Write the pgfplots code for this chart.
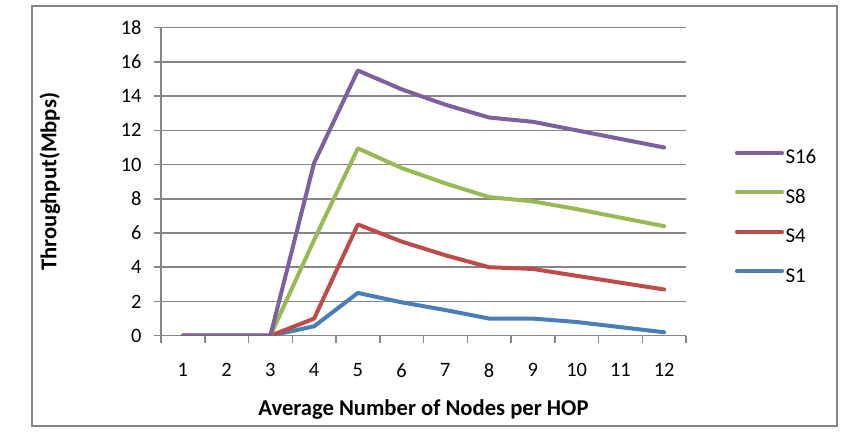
\documentclass[border=0pt]{standalone}
\usepackage{pgfplots}
\pgfplotsset{compat=1.18}
\usepackage{fontspec}
\setmainfont{Carlito}
\definecolor{cS1}{HTML}{4A7EBB}
\definecolor{cS4}{HTML}{BE4B48}
\definecolor{cS8}{HTML}{98B954}
\definecolor{cS16}{HTML}{7D60A0}
\definecolor{gridc}{HTML}{868686}
\begin{document}
\begin{tikzpicture}[x=1bp,y=1bp]
\useasboundingbox (0,0) rectangle (860,438);
\draw[gridc, line width=2bp] (32,12) rectangle (837,431.5);
\begin{axis}[
 at={(161bp,102.3bp)}, anchor=south west,
 scale only axis, width=525bp, height=308bp,
 xmin=0.5, xmax=12.5, ymin=0, ymax=18,
 xtick={0.5,1.5,...,12.5}, xticklabels={1,2,3,4,5,6,7,8,9,10,11,12,{}},
 ytick={0,2,...,18},
 tick align=outside, major tick length=7bp,
 axis lines*=left,
 axis line style={gridc, line width=1.5bp},
 tick style={gridc, line width=1.5bp},
 ymajorgrids, major grid style={gridc, line width=1.5bp},
 /pgf/number format/assume math mode=true,
 tick label style={font=\fontsize{20.5}{24}\selectfont, text=black},
 xticklabel style={xshift=21.875bp, yshift=-17bp},
 yticklabel style={xshift=-9bp},
 xlabel={\textbf{Average Number of Nodes per HOP}},
 ylabel={\textbf{Throughput(Mbps)}},
 label style={font=\fontsize{22.7}{26}\selectfont},
 xlabel style={at={(axis description cs:0.5,-0.2607)}, anchor=base},
 ylabel style={at={(axis description cs:-0.2114,0.5)}, anchor=center},
 legend style={at={(axis description cs:1.0933,0.387)}, anchor=west, draw=none, fill=none,
   inner sep=0pt, outer sep=0pt, row sep=26.5bp, column sep=1.5bp,
   nodes={inner sep=0pt, text height=12bp, text depth=0pt, font=\fontsize{21}{24}\selectfont}},
 legend cell align=left,
 reverse legend,
 legend image code/.code={\draw[#1] (0bp,5bp) -- (45bp,5bp);},
 every axis plot/.append style={line width=4bp, line join=round, line cap=round},
]
\addplot[cS1] coordinates {(1,0) (2,0) (3,0) (4,0.55) (5,2.5) (6,1.95) (7,1.5) (8,1.0) (9,1.0) (10,0.8) (11,0.5) (12,0.2)};
\addlegendentry{S1}
\addplot[cS4] coordinates {(1,0) (2,0) (3,0) (4,1.0) (5,6.5) (6,5.5) (7,4.7) (8,4.0) (9,3.9) (10,3.5) (11,3.1) (12,2.7)};
\addlegendentry{S4}
\addplot[cS8] coordinates {(1,0) (2,0) (3,0) (4,5.6) (5,10.95) (6,9.8) (7,8.9) (8,8.1) (9,7.85) (10,7.4) (11,6.9) (12,6.4)};
\addlegendentry{S8}
\addplot[cS16] coordinates {(1,0) (2,0) (3,0) (4,10.1) (5,15.5) (6,14.4) (7,13.5) (8,12.75) (9,12.5) (10,12.0) (11,11.5) (12,11.0)};
\addlegendentry{S16}
\end{axis}
\end{tikzpicture}
\end{document}
